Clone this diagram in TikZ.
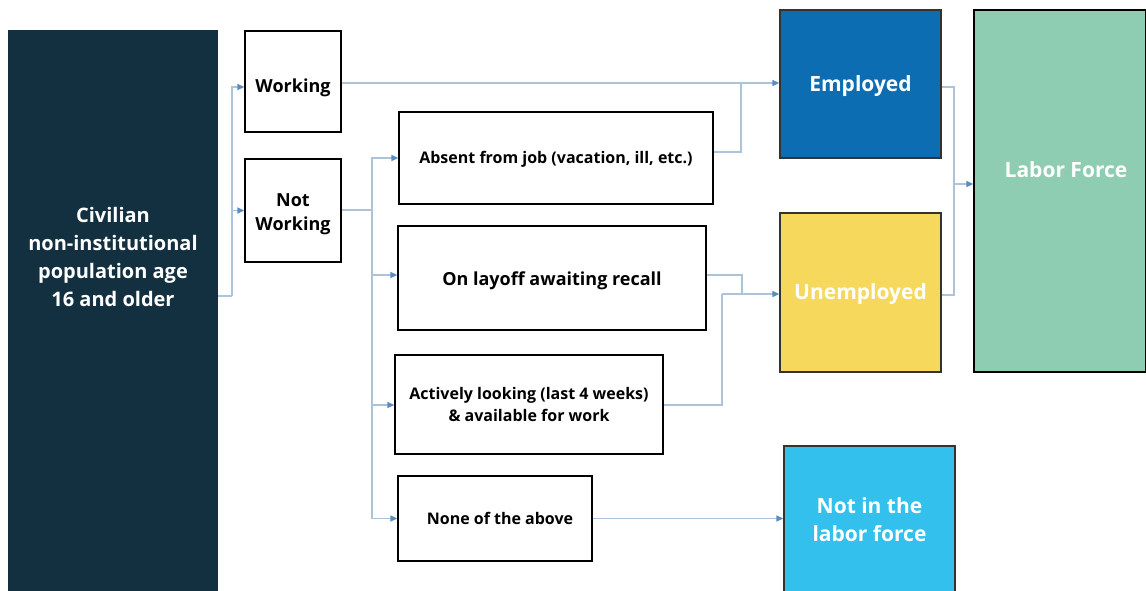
\documentclass[tikz,border=0pt]{standalone}
\usepackage{fontspec}
\setmainfont{Open Sans}
\usetikzlibrary{arrows.meta}
\definecolor{civc}{HTML}{12303F}
\definecolor{empc}{HTML}{0C6DB3}
\definecolor{unec}{HTML}{F5D85C}
\definecolor{nilfc}{HTML}{33C0EC}
\definecolor{lfc}{HTML}{8FCDB2}
\definecolor{linec}{HTML}{ADC3D8}
\definecolor{tipc}{HTML}{5A8CC0}
\begin{document}
\begin{tikzpicture}[x=1pt,y=-1pt,
  box/.style={draw=black,line width=1.3pt,fill=white,inner sep=0pt},
  cbox/.style={draw=black!80,line width=1.3pt,inner sep=0pt},
  lb/.style={align=center,inner sep=0pt},
  wl/.style={lb,text=white},
  conn/.style={draw=linec,line width=1.4pt},
  arr/.style={conn,-{Triangle[length=7pt,width=6pt,color=tipc]}},
  fa/.style={font=\fontsize{20}{28}\selectfont\bfseries},
  fb/.style={font=\fontsize{18}{24}\selectfont\bfseries},
  fc/.style={font=\fontsize{16}{22}\selectfont\bfseries},
  fd/.style={font=\fontsize{21}{28}\selectfont\bfseries},
]
\useasboundingbox (0,0) rectangle (1146,590);
\clip (0,0) rectangle (1146,590);
% boxes
\node[draw=none,fill=civc,minimum width=210pt,minimum height=570pt,inner sep=0pt] (civ) at (113,315) {};
\node[fa,wl] (civt) at (113,257) {Civilian\\non-institutional\\population age\\16 and older};
\node[box,minimum width=96pt,minimum height=101pt,label={[lb,fb,yshift=-6pt]center:Working}] (work) at (293,81.5) {};
\node[box,minimum width=96pt,minimum height=103pt,label={[lb,fb,yshift=-4pt]center:Not\\Working}] (notw) at (293,210.5) {};
\node[box,minimum width=314pt,minimum height=92pt,label={[lb,fc,yshift=-1.5pt]center:Absent from job (vacation, ill, etc.)}] (abs) at (556,158) {};
\node[box,minimum width=308pt,minimum height=104pt,label={[lb,fb,yshift=-3pt]center:On layoff awaiting recall}] (lay) at (552,278) {};
\node[box,minimum width=268pt,minimum height=99pt,label={[lb,fc,yshift=0pt]center:Actively looking (last 4 weeks)\\\&\ available for work}] (act) at (529,404.5) {};
\node[box,minimum width=194pt,minimum height=85pt,label={[lb,fc,xshift=5pt]center:None of the above}] (none) at (495,518.5) {};
\node[cbox,fill=empc,minimum width=161pt,minimum height=148pt,label={[wl,fd,yshift=-2pt]center:Employed}] (emp) at (860.5,84) {};
\node[cbox,fill=unec,minimum width=161pt,minimum height=159pt,label={[wl,fd,yshift=-2pt]center:Unemployed}] (une) at (860.5,292.5) {};
\node[cbox,fill=nilfc,minimum width=171pt,minimum height=160pt,label={[wl,fd,yshift=6pt]center:Not in the\\labor force}] (nilf) at (869.5,526) {};
\node[cbox,draw=black,fill=lfc,minimum width=172pt,minimum height=362pt] (lf) at (1060,191) {};
\node[wl,font=\fontsize{21}{24}\selectfont\bfseries] (lft) at (1066,170) {Labor Force};
% connectors
\coordinate (c1) at (232,296);
\draw[conn] (civ.east |- c1) -- (c1);
\draw[arr] (c1) |- (work.west |- 0,87);
\draw[arr] (c1) |- (notw.west);
\coordinate (c2) at (372,210);
\draw[conn] (notw.east |- c2) -- (c2);
\draw[arr] (c2) |- (abs.west);
\draw[arr] (c2) |- (lay.west |- 0,275);
\draw[arr] (c2) |- (act.west |- 0,405);
\draw[arr] (c2) |- (none.west);
\coordinate (c3) at (741,83);
\draw[arr] (work.east |- c3) -- (emp.west |- c3);
\draw[conn] (abs.east |- 0,152) -| (c3);
\coordinate (c4) at (742,294);
\draw[conn] (lay.east |- 0,275) -| (c4);
\draw[conn] (act.east |- 0,405) -| (722,294);
\draw[arr] (722,294) -- (une.west |- c4);
\draw[arr] (none.east) -- (nilf.west |- none.east);
\coordinate (c5) at (954,184);
\draw[conn] (emp.east |- 0,87) -| (c5);
\draw[conn] (une.east |- 0,295) -| (c5);
\draw[arr] (c5) -- (lf.west |- c5);
\end{tikzpicture}
\end{document}
